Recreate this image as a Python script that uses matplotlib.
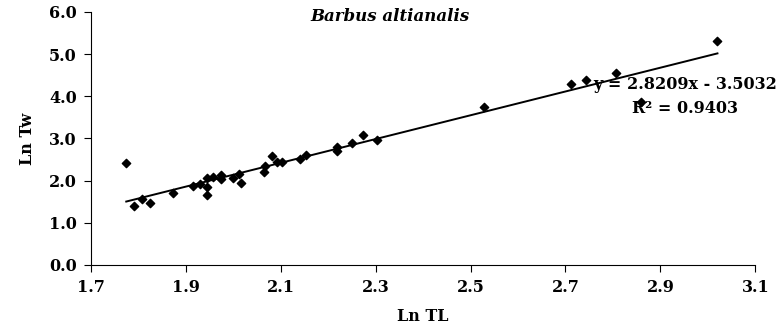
import matplotlib
matplotlib.use('Agg')
import matplotlib.pyplot as plt
import numpy as np

# 宽体衬线字体，加粗
plt.rcParams['font.family'] = ['DejaVu Serif', 'Liberation Serif']
plt.rcParams['font.weight'] = 'bold'

# 长度-体重对数数据
ln_tl = [1.775, 1.791, 1.809, 1.824, 1.873, 1.916, 1.930, 1.944, 1.944, 1.944,
         1.958, 1.974, 1.974, 2.000, 2.013, 2.016, 2.066, 2.067, 2.081, 2.092,
         2.104, 2.141, 2.153, 2.218, 2.218, 2.251, 2.273, 2.304, 2.528, 2.711,
         2.743, 2.806, 2.860, 3.020]
ln_tw = [2.41, 1.41, 1.56, 1.46, 1.71, 1.87, 1.93, 2.06, 1.84, 1.66,
         2.08, 2.13, 2.05, 2.07, 2.15, 1.94, 2.21, 2.35, 2.58, 2.43,
         2.44, 2.51, 2.61, 2.79, 2.71, 2.90, 3.08, 2.96, 3.74, 4.30,
         4.38, 4.55, 3.87, 5.32]

# 回归参数
slope = 2.8209
intercept = -3.5032
r2 = 0.9403

x_ticks = [1.7, 1.9, 2.1, 2.3, 2.5, 2.7, 2.9, 3.1]
y_ticks = [0, 1, 2, 3, 4, 5, 6]

fs = 11.5

fig = plt.figure(figsize=(7.78, 3.3), dpi=100)
ax = fig.add_axes([0.1165, 0.197, 0.8545, 0.767])

ax.scatter(ln_tl, ln_tw, marker='D', s=18, color='black', zorder=3)

xs = np.array([min(ln_tl), max(ln_tl)])
ax.plot(xs, slope * xs + intercept, color='black', lw=1.4, zorder=2)

ax.set_xlim(1.7, 3.1)
ax.set_ylim(0, 6)
ax.set_xticks(x_ticks)
ax.set_yticks(y_ticks)
ax.set_xticklabels([f'{v:.1f}' for v in x_ticks])
ax.set_yticklabels([f'{v:.1f}' for v in y_ticks])
ax.tick_params(labelsize=fs, direction='out', length=5, width=0.8, pad=5)
ax.spines['top'].set_visible(False)
ax.spines['right'].set_visible(False)

ax.set_xlabel('Ln TL', fontsize=fs, fontweight='bold', labelpad=9)
ax.set_ylabel('Ln Tw', fontsize=fs, fontweight='bold', labelpad=9)

ax.text(2.33, 5.88, 'Barbus altianalis', fontsize=fs + 0.5, fontweight='bold',
        style='italic', ha='center', va='center')
ax.text(2.758, 4.27, f'y = {slope:.4f}x - {-intercept:.4f}', fontsize=fs,
        fontweight='bold', ha='left', va='center')
ax.text(2.84, 3.70, f'R² = {r2:.4f}', fontsize=fs, fontweight='bold',
        ha='left', va='center')

fig.savefig('out.png', dpi=100)
